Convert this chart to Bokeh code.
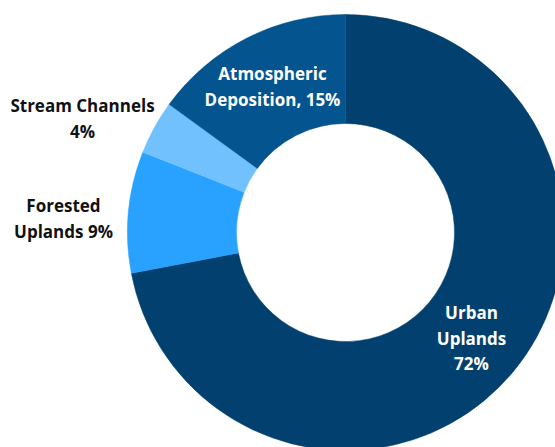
import numpy as np
from bokeh.plotting import figure
from bokeh.models import Range1d, ColumnDataSource
from bokeh.core.properties import value
from bokeh.embed import file_html
from bokeh.resources import INLINE

# ---- data ----
categories = ["Urban Uplands", "Forested Uplands", "Stream Channels", "Atmospheric Deposition"]
shares = [72, 9, 4, 15]
colors = ["#02416F", "#29A2FF", "#72C1FF", "#03548F"]

label_lines = [
    ["Urban", "Uplands", "72%"],
    ["Forested", "Uplands 9%"],
    ["Stream Channels", "4%"],
    ["Atmospheric", "Deposition, 15%"],
]
label_colors = ["white", "#111111", "#111111", "white"]

# ---- layout (screen pixels, y measured from top) ----
W, H = 555, 447
cx, cy = 345, 232
r_out, r_in = 218, 109
label_pos = [(471, 312), (63, 205), (82, 105), (272, 73)]
line_gap = 25.5

p = figure(width=W, height=H, output_backend="svg", toolbar_location=None,
           x_range=Range1d(0, W), y_range=Range1d(0, H), min_border=0)
p.axis.visible = False
p.grid.visible = False
p.outline_line_color = None
p.background_fill_color = "white"
p.border_fill_color = "white"

vals = np.array(shares, dtype=float)
frac = vals / vals.sum()
ends = np.cumsum(frac) * 2 * np.pi
starts = ends - frac * 2 * np.pi
# clockwise from 12 o'clock -> bokeh angles
src = ColumnDataSource(dict(
    start=np.pi / 2 - starts,
    end=np.pi / 2 - ends,
    color=colors,
    cat=categories,
))
p.annular_wedge(x=cx, y=H - cy, inner_radius=r_in, outer_radius=r_out,
                start_angle="start", end_angle="end", direction="clock",
                fill_color="color", line_color="color", line_width=0.5, source=src)

tx, ty, tt, tc = [], [], [], []
for lines, (lx, ly), col in zip(label_lines, label_pos, label_colors):
    for i, ln in enumerate(lines):
        tx.append(lx)
        ty.append(H - (ly + i * line_gap))
        tt.append(ln)
        tc.append(col)
p.text(x=tx, y=ty, text=tt, text_color=tc, text_align="center", text_baseline="middle",
       text_font=value("Open Sans"), text_font_style="bold", text_font_size="17px")

open("out.html", "w").write(file_html(p, INLINE))
